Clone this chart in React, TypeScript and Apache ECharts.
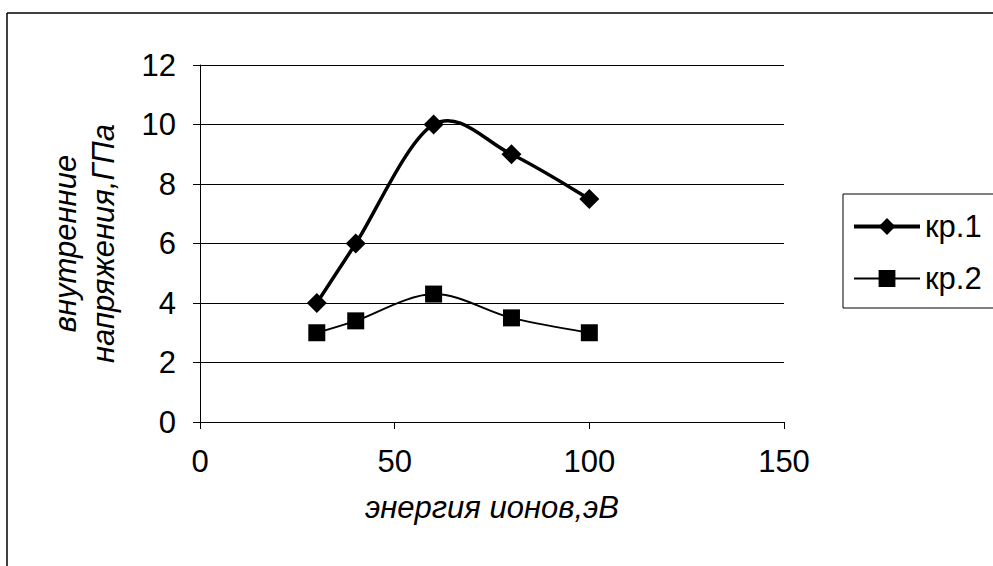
import React, { useEffect, useRef } from "react";
import * as echarts from "echarts";

const energy = [30, 40, 60, 80, 100];
const kr1 = [4, 6, 10, 9, 7.5];
const kr2 = [3, 3.4, 4.3, 3.5, 3];
const seriesNames = ["кр.1", "кр.2"];
const xTitle = "энергия ионов,эВ";
const yTitle = "внутренние\nнапряжения,ГПа";

const FONT = "'Liberation Sans', Arial, sans-serif";

// Excel-like smoothed curve (Catmull-Rom Bezier) drawn through the axis scales
function smoothRenderer(lineWidth: number) {
  return (params: any, api: any) => {
    if (params.dataIndexInside !== 0) return null;
    const n = params.dataInsideLength;
    const pts: number[][] = [];
    for (let i = 0; i < n; i++) {
      pts.push(api.coord([api.value(0, i), api.value(1, i)]));
    }
    let d = `M${pts[0][0]},${pts[0][1]}`;
    for (let i = 0; i < n - 1; i++) {
      const p0 = pts[Math.max(0, i - 1)];
      const p1 = pts[i];
      const p2 = pts[i + 1];
      const p3 = pts[Math.min(n - 1, i + 2)];
      const c1x = p1[0] + (p2[0] - p0[0]) / 6;
      const c1y = p1[1] + (p2[1] - p0[1]) / 6;
      const c2x = p2[0] - (p3[0] - p1[0]) / 6;
      const c2y = p2[1] - (p3[1] - p1[1]) / 6;
      d += ` C${c1x},${c1y} ${c2x},${c2y} ${p2[0]},${p2[1]}`;
    }
    return {
      type: "path",
      shape: { pathData: d },
      style: { fill: "none", stroke: "#000", lineWidth },
      silent: true,
    };
  };
}

export default function App() {
  const ref = useRef<HTMLDivElement>(null);
  useEffect(() => {
    if (!ref.current) return;
    const chart = echarts.init(ref.current, null, { renderer: "svg" });
    const pair = (ys: number[]) => energy.map((x, i) => [x, ys[i]]);
    chart.setOption({
      animation: false,
      backgroundColor: "#ffffff",
      textStyle: { fontFamily: FONT },
      grid: { left: 200, right: 209, top: 65, bottom: 144, containLabel: false },
      xAxis: {
        type: "value",
        min: 0,
        max: 150,
        interval: 50,
        name: xTitle,
        nameLocation: "middle",
        nameGap: 70,
        nameTextStyle: { fontSize: 31, fontStyle: "italic", color: "#000", fontFamily: FONT },
        axisLine: { lineStyle: { color: "#000", width: 1 } },
        axisTick: { show: true, length: 7, lineStyle: { color: "#000" } },
        axisLabel: { fontSize: 31, color: "#000", margin: 24, fontFamily: FONT },
        splitLine: { show: false },
      },
      yAxis: {
        type: "value",
        min: 0,
        max: 12,
        interval: 2,
        name: yTitle,
        nameLocation: "middle",
        nameRotate: 90,
        nameGap: 78,
        nameTextStyle: { fontSize: 31, fontStyle: "italic", color: "#000", lineHeight: 38, fontFamily: FONT },
        axisLine: { show: true, lineStyle: { color: "#000", width: 1 } },
        axisTick: { show: true, length: 7, lineStyle: { color: "#000" } },
        axisLabel: { fontSize: 31, color: "#000", margin: 24, fontFamily: FONT },
        splitLine: { show: true, lineStyle: { color: "#000", width: 1 } },
      },
      legend: {
        orient: "vertical",
        left: 843,
        top: 194,
        padding: [17, 30, 14, 9],
        itemWidth: 66,
        itemHeight: 21,
        itemGap: 21,
        borderColor: "#000",
        borderWidth: 1,
        backgroundColor: "#fff",
        textStyle: { fontSize: 31, color: "#000", lineHeight: 21, fontFamily: FONT },
        data: [
          { name: seriesNames[0], lineStyle: { width: 4, color: "#000", opacity: 1 } },
          { name: seriesNames[1], lineStyle: { width: 2, color: "#000", opacity: 1 } },
        ],
      },
      series: [
        {
          name: seriesNames[0] + " ",
          type: "custom",
          data: pair(kr1),
          renderItem: smoothRenderer(3.5),
          z: 1,
        },
        {
          name: seriesNames[1] + " ",
          type: "custom",
          data: pair(kr2),
          renderItem: smoothRenderer(2),
          z: 1,
        },
        {
          name: seriesNames[0],
          type: "line",
          data: pair(kr1),
          symbol: "diamond",
          symbolSize: 20,
          lineStyle: { color: "#000", width: 0, opacity: 0 },
          itemStyle: { color: "#000" },
          z: 3,
        },
        {
          name: seriesNames[1],
          type: "line",
          data: pair(kr2),
          symbol: "rect",
          symbolSize: 17,
          lineStyle: { color: "#000", width: 0, opacity: 0 },
          itemStyle: { color: "#000" },
          z: 3,
        },
      ],
      graphic: [
        { type: "line", shape: { x1: 7, y1: 13, x2: 993, y2: 13 }, style: { stroke: "#000", lineWidth: 1.5 } },
        { type: "line", shape: { x1: 7, y1: 13, x2: 7, y2: 566 }, style: { stroke: "#000", lineWidth: 1.5 } },
      ],
    });
    return () => chart.dispose();
  }, []);
  return (
    <div
      ref={ref}
      style={{ position: "absolute", left: 0, top: 0, width: 993, height: 566, background: "#fff" }}
    />
  );
}
